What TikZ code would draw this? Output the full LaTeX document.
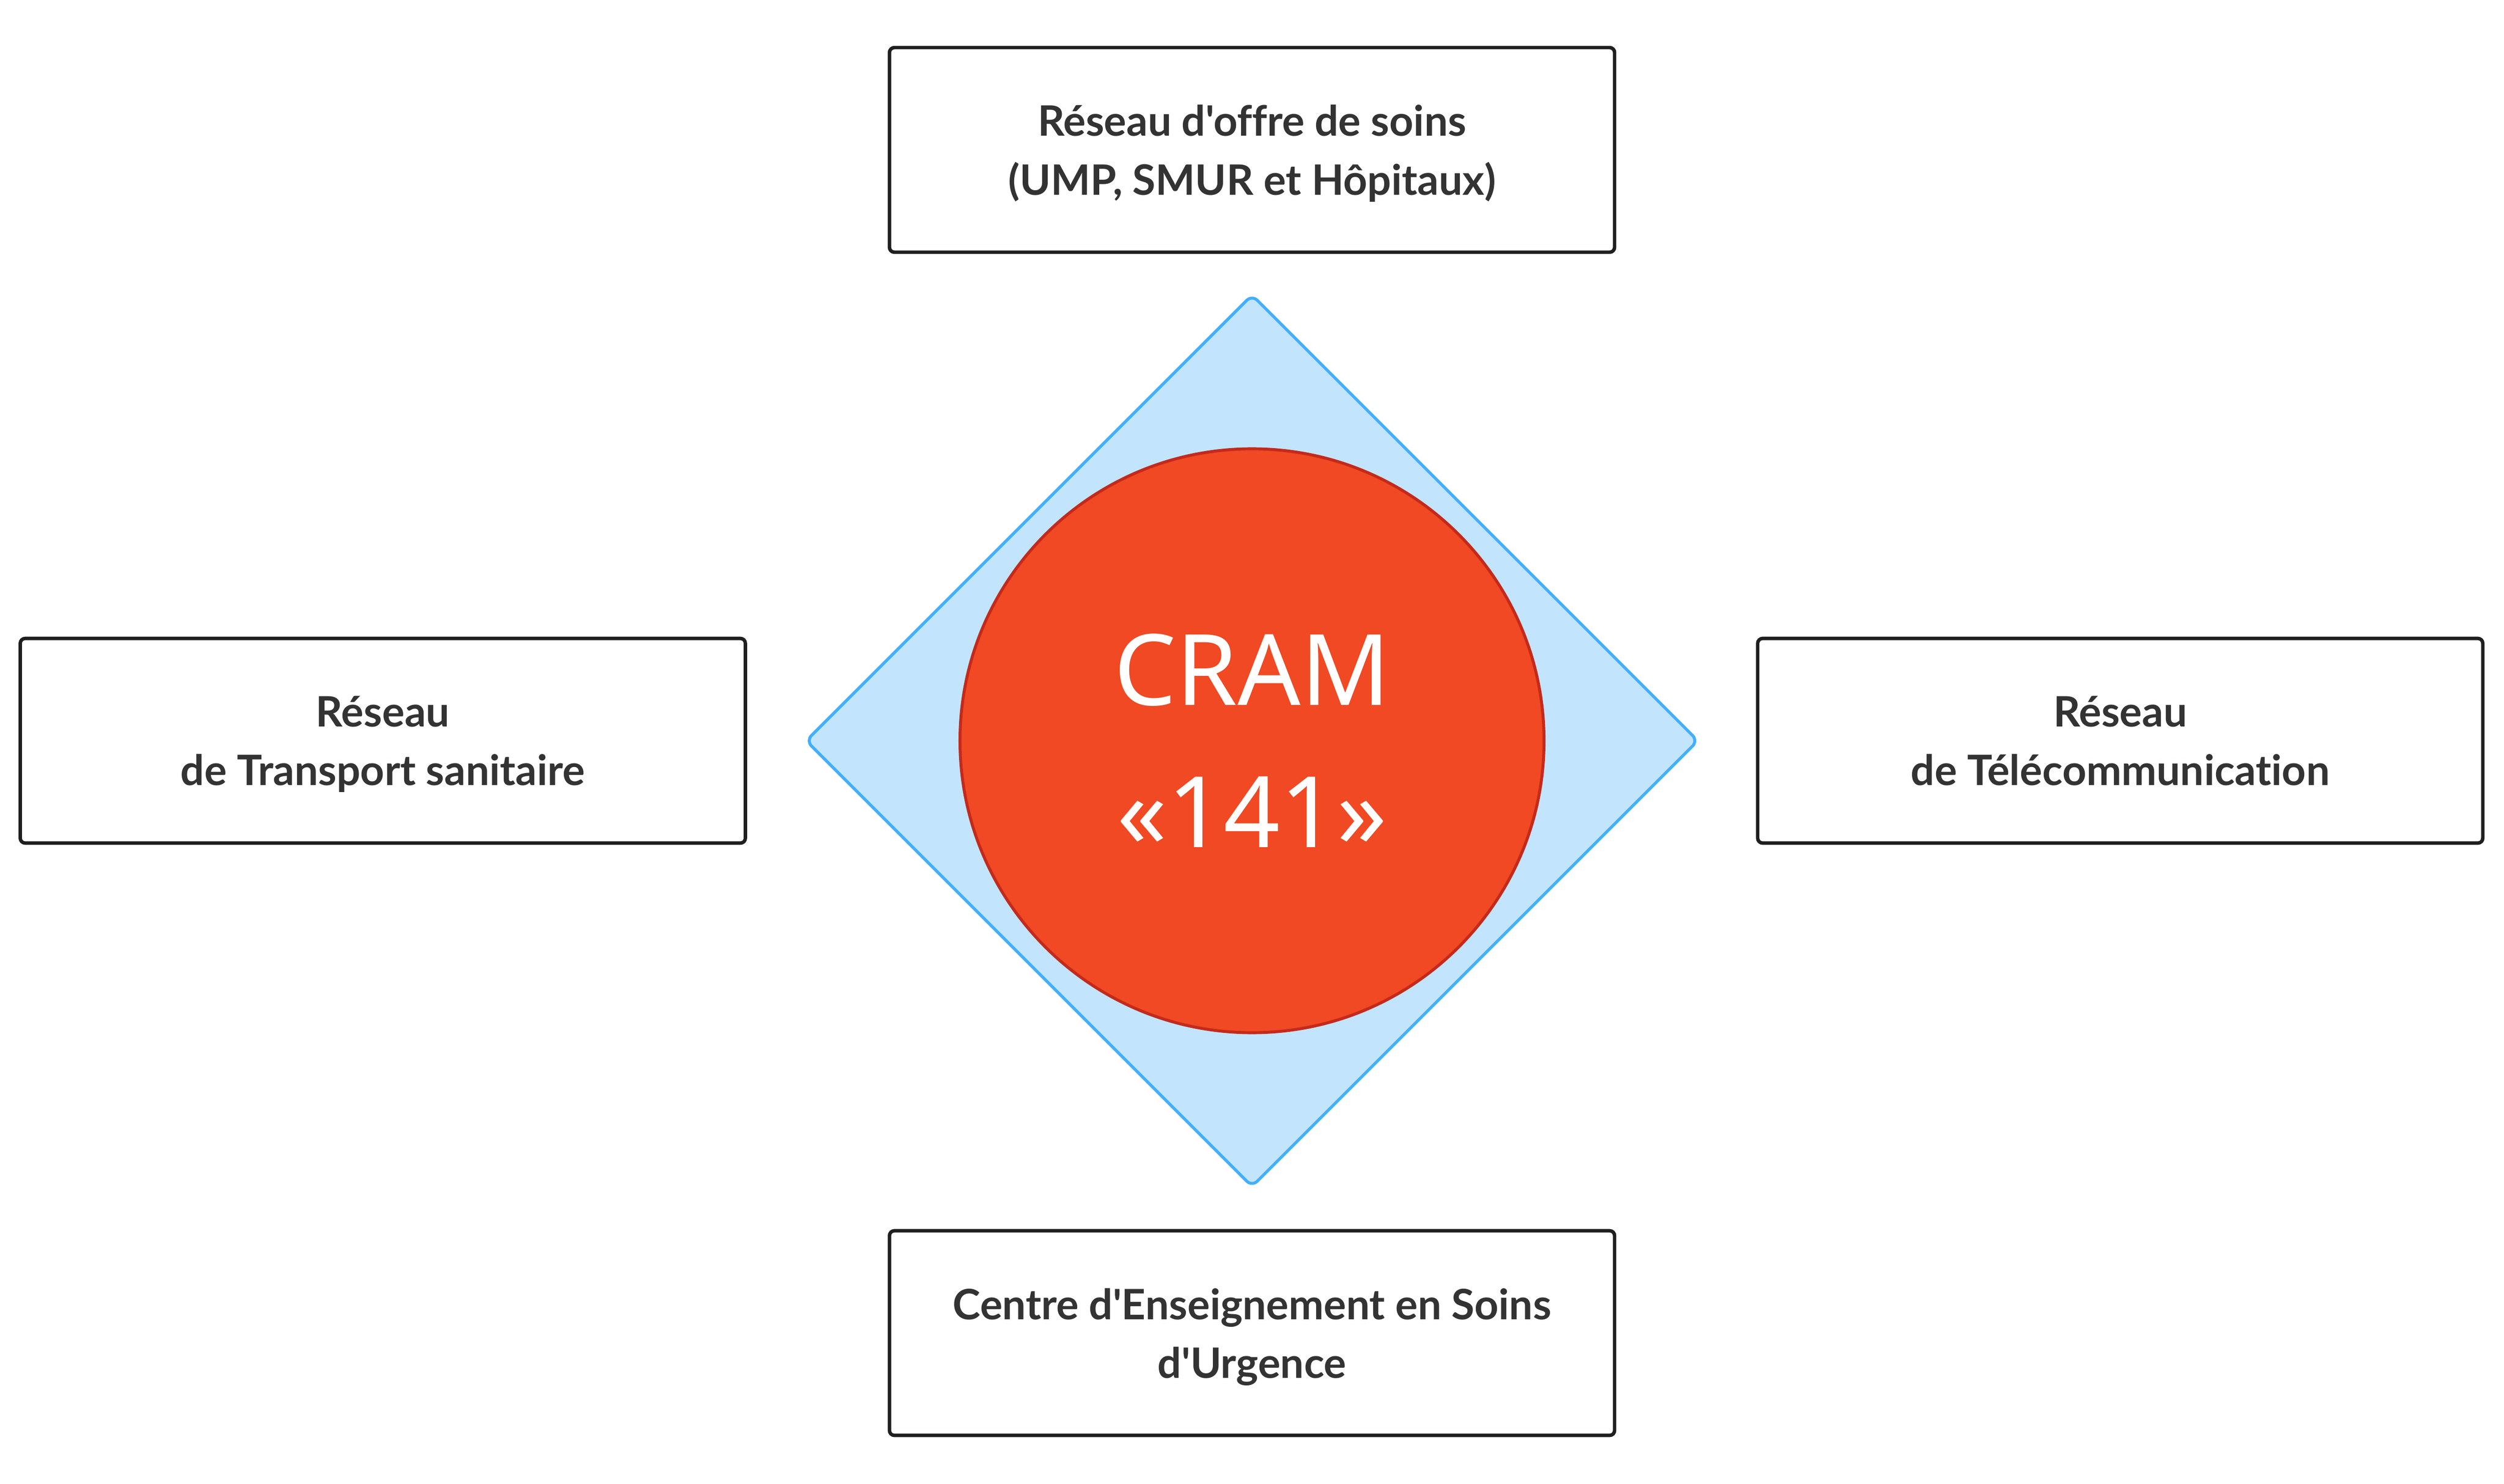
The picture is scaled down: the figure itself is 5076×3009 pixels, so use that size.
\documentclass[tikz,border=0pt]{standalone}
\usepackage{fontspec}
\newfontfamily\boxfont{Lato}[Ligatures=NoCommon]
\newfontfamily\cramfont{Noto Sans}
\usetikzlibrary{shapes.geometric}
\definecolor{boxtext}{HTML}{333333}
\definecolor{boxline}{HTML}{1F1F1F}
\definecolor{dfill}{HTML}{C2E5FD}
\definecolor{dline}{HTML}{42AFFF}
\definecolor{cfill}{HTML}{F04923}
\definecolor{cline}{HTML}{C42A1B}
\begin{document}
\begin{tikzpicture}[x=0.1pt,y=-0.1pt]
\tikzset{
  infobox/.style={draw=boxline, line width=0.7pt, rounded corners=1pt, fill=white,
    minimum width=147pt, minimum height=41.5pt, inner sep=0pt, align=center,
    text depth=0pt,
    font=\boxfont\bfseries\fontsize{8.5pt}{11.9pt}\selectfont, text=boxtext},
  hubdiamond/.style={diamond, draw=dline, fill=dfill, line width=0.6pt,
    minimum width=181pt, minimum height=181pt, inner sep=0pt, rounded corners=1.5pt},
  hubcircle/.style={circle, draw=cline, fill=cfill, line width=0.6pt,
    minimum size=118.4pt, inner sep=0pt, text=white, align=center,
    font=\cramfont\fontsize{20pt}{28.8pt}\selectfont}
}
\useasboundingbox (0,0) rectangle (5076,3009);
\node[infobox] (top) at (2538,304) {Réseau d'offre de soins\\(UMP, SMUR et Hôpitaux)};
\node[infobox] (left) at (776,1502) {Réseau\\de Transport sanitaire};
\node[infobox] (right) at (4298,1502) {Réseau\\de Télécommunication};
\node[infobox] (bottom) at (2538,2703) {Centre d'Enseignement en Soins\\d'Urgence};
\node[hubdiamond] (dia) at (2538,1502) {};
\node[hubcircle] (cram) at (2538,1502) {CRAM\\«141»};
\end{tikzpicture}
\end{document}
